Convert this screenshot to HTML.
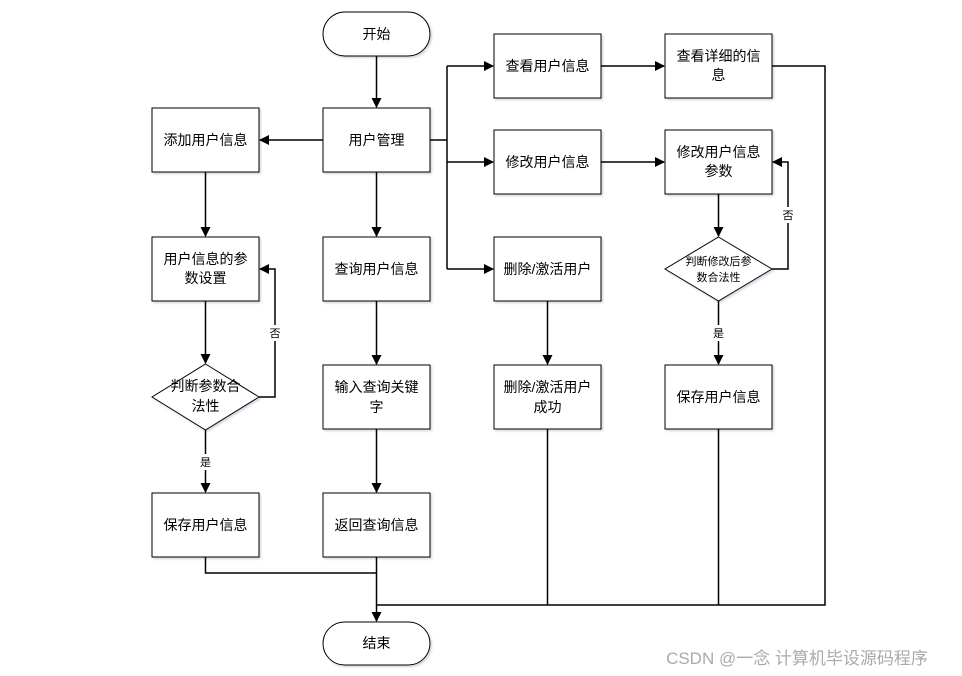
<!DOCTYPE html>
<html><head><meta charset="utf-8"><style>
html,body{margin:0;padding:0;background:#fff;}
svg{display:block;}
text{font-family:"Liberation Sans","Noto Sans CJK SC",sans-serif;font-size:14px;fill:#000;text-anchor:middle;}
.s{font-size:11px;}
</style></head><body>
<svg width="962" height="676" viewBox="0 0 962 676" xmlns="http://www.w3.org/2000/svg">
<defs>
<marker id="a" markerWidth="10" markerHeight="10" refX="9" refY="5" orient="auto" markerUnits="userSpaceOnUse">
<path d="M0,0 L10,5 L0,10 z" fill="#000"/></marker>
<filter id="sh" x="-10%" y="-10%" width="130%" height="130%"><feDropShadow dx="1.5" dy="1.5" stdDeviation="1" flood-color="#9ab" flood-opacity="0.5"/></filter>
</defs>
<g fill="#fff" stroke="#000" stroke-width="1" filter="url(#sh)">
<rect x="323" y="12" width="107" height="44" rx="22"/>
<rect x="323" y="622" width="107" height="43" rx="21.5"/>
<rect x="323" y="108" width="107" height="64"/>
<rect x="152" y="108" width="107" height="64"/>
<rect x="152" y="237" width="107" height="64"/>
<polygon points="205.5,364 259,397 205.5,430 152,397"/>
<rect x="152" y="493" width="107" height="64"/>
<rect x="323" y="237" width="107" height="64"/>
<rect x="323" y="365" width="107" height="64"/>
<rect x="323" y="493" width="107" height="64"/>
<rect x="494" y="34" width="107" height="64"/>
<rect x="494" y="130" width="107" height="64"/>
<rect x="494" y="237" width="107" height="64"/>
<rect x="494" y="365" width="107" height="64"/>
<rect x="665" y="34" width="107" height="64"/>
<rect x="665" y="130" width="107" height="64"/>
<polygon points="718.5,237 772,269 718.5,301 665,269"/>
<rect x="665" y="365" width="107" height="64"/>
</g>
<g fill="none" stroke="#000" stroke-width="1.5">
<line x1="376.5" y1="56" x2="376.5" y2="107" marker-end="url(#a)"/>
<line x1="323" y1="140" x2="260" y2="140" marker-end="url(#a)"/>
<line x1="205.5" y1="172" x2="205.5" y2="236" marker-end="url(#a)"/>
<line x1="205.5" y1="301" x2="205.5" y2="363" marker-end="url(#a)"/>
<line x1="205.5" y1="430" x2="205.5" y2="492" marker-end="url(#a)"/>
<polyline points="259,397 275,397 275,269 260,269" marker-end="url(#a)"/>
<line x1="376.5" y1="172" x2="376.5" y2="236" marker-end="url(#a)"/>
<line x1="376.5" y1="301" x2="376.5" y2="364" marker-end="url(#a)"/>
<line x1="376.5" y1="429" x2="376.5" y2="492" marker-end="url(#a)"/>
<line x1="376.5" y1="557" x2="376.5" y2="621" marker-end="url(#a)"/>
<polyline points="205.5,557 205.5,573 376.5,573"/>
<polyline points="430,140 447,140"/>
<polyline points="447,66 447,269"/>
<line x1="447" y1="66" x2="493" y2="66" marker-end="url(#a)"/>
<line x1="447" y1="162" x2="493" y2="162" marker-end="url(#a)"/>
<line x1="447" y1="269" x2="493" y2="269" marker-end="url(#a)"/>
<line x1="601" y1="66" x2="664" y2="66" marker-end="url(#a)"/>
<line x1="601" y1="162" x2="664" y2="162" marker-end="url(#a)"/>
<line x1="547.5" y1="301" x2="547.5" y2="364" marker-end="url(#a)"/>
<line x1="718.5" y1="194" x2="718.5" y2="236" marker-end="url(#a)"/>
<line x1="718.5" y1="301" x2="718.5" y2="364" marker-end="url(#a)"/>
<polyline points="772,269 788,269 788,162 773,162" marker-end="url(#a)"/>
<polyline points="772,66 825,66 825,605 376.5,605"/>
<line x1="547.5" y1="429" x2="547.5" y2="605"/>
<line x1="718.5" y1="429" x2="718.5" y2="605"/>
</g>
<g fill="#fff">
<rect x="268" y="325" width="14" height="16"/>
<rect x="198" y="454" width="14" height="16"/>
<rect x="711" y="325" width="14" height="16"/>
<rect x="781" y="207" width="14" height="16"/>
</g>
<text x="376.5" y="39">开始</text>
<text x="376.5" y="648">结束</text>
<text x="376.5" y="145">用户管理</text>
<text x="205.5" y="145">添加用户信息</text>
<text x="205.5" y="264">用户信息的参</text>
<text x="205.5" y="283">数设置</text>
<text x="205.5" y="391">判断参数合</text>
<text x="205.5" y="411">法性</text>
<text x="205.5" y="530">保存用户信息</text>
<text x="376.5" y="274">查询用户信息</text>
<text x="376.5" y="392">输入查询关键</text>
<text x="376.5" y="412">字</text>
<text x="376.5" y="530">返回查询信息</text>
<text x="547.5" y="71">查看用户信息</text>
<text x="547.5" y="167">修改用户信息</text>
<text x="547.5" y="274">删除/激活用户</text>
<text x="547.5" y="392">删除/激活用户</text>
<text x="547.5" y="412">成功</text>
<text x="718.5" y="61">查看详细的信</text>
<text x="718.5" y="80">息</text>
<text x="718.5" y="157">修改用户信息</text>
<text x="718.5" y="176">参数</text>
<text class="s" x="718.5" y="265">判断修改后参</text>
<text class="s" x="718.5" y="281">数合法性</text>
<text x="718.5" y="402">保存用户信息</text>
<text class="s" x="275" y="337">否</text>
<text class="s" x="205.5" y="466">是</text>
<text class="s" x="718.5" y="337">是</text>
<text class="s" x="788" y="219">否</text>
<text x="797" y="664" style="font-size:17px;fill:#aaa;">CSDN @一念 计算机毕设源码程序</text>
</svg>
</body></html>
